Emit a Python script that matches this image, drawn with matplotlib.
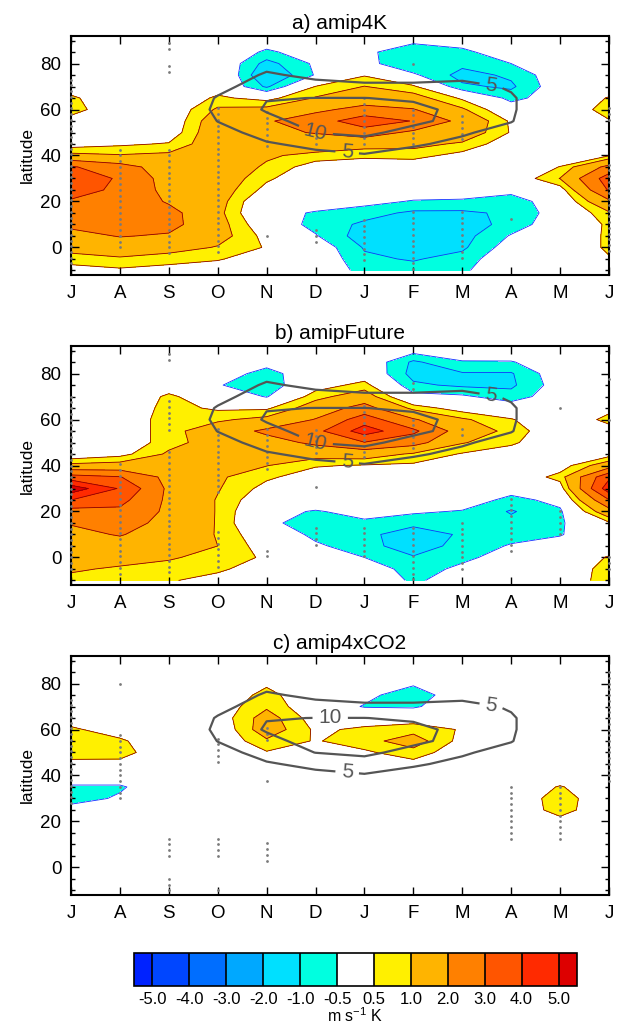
import numpy as np
import matplotlib.pyplot as plt

plt.rcParams['font.family'] = ['Liberation Sans', 'DejaVu Sans']
plt.rcParams['axes.unicode_minus'] = False
plt.rcParams['mathtext.fontset'] = 'custom'
plt.rcParams['mathtext.rm'] = 'Liberation Sans'

# x: months Jul..Jun, y: latitude -10..90 every 5 deg
month_labels = ['J', 'A', 'S', 'O', 'N', 'D', 'J', 'F', 'M', 'A', 'M', 'J']
lats = [-10, -5, 0, 5, 10, 15, 20, 25, 30, 35, 40, 45, 50, 55, 60, 65, 70, 75, 80, 85, 90]

# one list per month (values from lat -10 up to 90), m s-1 K-1
amip4k = [
    [0.2, 0.8, 1.2, 1.7, 2.2, 2.6, 2.9, 3.4, 3.8, 3.1, 1.2, 0.2, 0.0, 0.3, 0.7, 0.6, 0.2, 0, 0, 0, 0],
    [0.4, 0.9, 1.5, 2.05, 2.4, 2.6, 2.7, 2.8, 2.85, 2.4, 1.05, 0.4, 0, 0, 0.1, 0.05, 0, 0, 0, 0, 0],
    [0.3, 0.7, 1.3, 1.9, 2.3, 2.3, 1.9, 1.7, 1.6, 1.5, 1.15, 0.55, 0.1, 0, 0, 0, 0, 0, 0, 0, 0],
    [0.2, 0.55, 0.95, 1.3, 1.3, 1.2, 1.3, 1.4, 1.5, 1.5, 1.5, 1.5, 1.6, 1.5, 1.1, 0.6, 0.2, 0.3, 0.1, 0, 0],
    [0, 0.2, 0.45, 0.3, 0, -0.3, -0.2, 0.3, 0.6, 0.9, 1.1, 1.4, 1.8, 1.9, 1.2, 0.3, -1.1, -1.6, -1.2, -0.6, -0.2],
    [0, 0, -0.1, -0.45, -0.7, -0.55, -0.2, 0, 0, 0.2, 0.8, 1.5, 2.05, 2.5, 1.8, 1.05, 0.52, -0.45, -0.4, -0.2, 0],
    [-0.7, -0.9, -1.05, -1.3, -1.1, -0.8, -0.3, 0, 0, 0.2, 0.6, 1.3, 2.5, 3.6, 2.3, 1.5, 1.02, 0.45, -0.3, -0.35, -0.1],
    [-0.8, -1.05, -1.3, -1.4, -1.3, -1.1, -0.55, -0.1, 0, 0.1, 0.7, 1.2, 1.8, 2.95, 2.05, 1.3, 0.6, -0.4, -0.95, -0.9, -0.35],
    [-0.6, -0.8, -1.1, -1.2, -1.3, -1.1, -0.6, -0.1, 0, 0.1, 0.3, 0.9, 1.5, 1.7, 1.1, 0.4, -0.9, -1.2, -0.85, -0.65, -0.2],
    [0, 0, -0.2, -0.45, -0.8, -0.9, -0.8, -0.3, 0, 0, 0, 0.1, 0.45, 0.4, -0.1, -0.7, -1.1, -0.9, -0.5, -0.1, 0],
    [0, 0, 0, 0, -0.1, -0.2, -0.1, 0.2, 1.02, 0.52, 0.1, 0, 0, 0, -0.1, -0.1, -0.1, -0.1, 0, 0, 0],
    [0.2, 0.45, 0.6, 0.6, 0.6, 0.9, 1.8, 3.1, 3.5, 2.3, 0.45, 0.1, 0.1, 0.45, 0.8, 0.55, 0.1, 0, 0, 0, 0],
]

amip_future = [
    [0.8, 1.1, 1.3, 1.5, 1.8, 2.05, 2.6, 4.0, 5.6, 3.4, 1.2, 0, 0, 0, 0.2, 0, 0, 0, 0, 0, 0],
    [0.6, 0.9, 1.3, 1.7, 2.05, 2.4, 2.8, 3.3, 3.9, 3.05, 1.3, 0.3, 0, 0, 0, 0, 0, 0, 0, 0, 0],
    [0.55, 0.85, 1.05, 1.3, 1.6, 1.7, 1.8, 1.8, 1.8, 1.7, 1.5, 1.1, 0.8, 0.8, 0.8, 0.7, 0.6, 0.2, 0, 0, 0],
    [0.3, 0.6, 0.85, 1.0, 0.95, 0.95, 0.95, 0.95, 1.05, 1.1, 1.15, 1.2, 1.3, 1.4, 0.9, 0.4, 0.1, -0.45, -0.2, 0, 0],
    [0, 0.2, 0.4, 0.2, 0, -0.4, -0.3, 0, 0.3, 0.6, 1.02, 1.2, 1.6, 2.2, 1.2, 0.4, -0.55, -0.9, -0.7, -0.3, 0],
    [0, 0, -0.2, -0.4, -0.65, -0.7, -0.55, -0.1, 0, 0.2, 0.55, 1.3, 2.2, 2.7, 2.05, 1.4, 0.8, 0.2, -0.1, 0, 0],
    [0, -0.2, -0.5, -0.8, -0.9, -0.6, -0.3, 0.1, 0.3, 0.2, 0.45, 1.4, 2.95, 4.5, 3.5, 2.4, 1.4, 0.7, 0.1, 0, 0],
    [-0.6, -0.7, -0.95, -1.3, -1.2, -0.9, -0.4, 0, 0, 0.1, 0.4, 0.9, 2.4, 3.2, 2.1, 0.8, -0.3, -0.9, -1.2, -1.1, -0.3],
    [-0.2, -0.4, -0.6, -0.8, -0.95, -0.8, -0.55, -0.1, 0, 0, 0.1, 0.45, 1.05, 1.5, 1.1, 0.2, -0.4, -1.1, -1.05, -0.55, -0.1],
    [0, -0.1, -0.3, -0.45, -0.7, -0.85, -1.05, -0.7, -0.2, 0, 0, 0.2, 0.6, 0.8, 0.55, -0.1, -0.8, -1.1, -1.05, -0.55, 0],
    [0, 0, 0, -0.2, -0.55, -0.6, -0.6, -0.3, 0.2, 0.7, 0.2, 0, 0, 0, -0.1, 0, -0.1, -0.2, -0.1, 0, 0],
    [0.8, 0.75, 0.55, 0.2, 0.1, 0.4, 1.6, 2.95, 4.6, 3.8, 1.5, 0.2, 0, 0.2, 0.7, 0.3, 0, 0, 0, 0, 0],
]

amip4xco2 = [
    [0, 0, 0, 0, 0, 0, 0, -0.2, -0.8, -0.6, 0, 0.3, 0.8, 0.8, 0.6, 0.2, 0, 0, 0, 0, 0],
    [0, 0, 0, 0, 0, 0, 0, 0, -0.4, -0.6, 0, 0.2, 0.9, 0.6, 0.2, 0, 0, 0, 0, 0, 0],
    [0, 0, 0, 0, 0, 0, 0, 0, 0, 0.1, 0, 0, -0.3, 0, 0, 0, 0, 0, 0, 0, 0],
    [0, 0, 0, 0, 0, 0, 0, 0, 0, 0, 0, 0, -0.3, 0, 0, 0.15, 0.15, 0, 0, 0, 0],
    [0, 0, 0, 0, 0, 0, 0, 0, 0, 0, 0, 0.2, 0.45, 0.9, 1.4, 1.3, 0.9, 0.7, 0.4, 0, 0],
    [0, 0, 0, 0, 0, 0, 0, 0, 0, 0, 0, 0, 0.3, 0.45, 0.4, 0.2, 0, 0, 0, 0, 0],
    [0, 0, 0, 0, 0, 0, 0, 0, 0, 0, 0, 0.1, 0.4, 0.8, 0.6, 0.2, -0.55, -0.3, 0, 0, 0],
    [0, 0, 0, 0, 0, 0, 0, 0, 0, 0, 0, 0.3, 0.8, 1.3, 0.8, 0.2, -0.6, -0.9, -0.4, 0, 0],
    [0, 0, 0, 0, 0, 0, 0, 0, 0, 0, 0, 0, 0.1, 0.3, 0.45, 0.1, 0, 0, 0, 0, 0],
    [0, 0, 0, 0, 0, 0, 0, 0, 0, 0, 0, 0, 0, 0, 0, 0, 0, 0, 0, 0, 0],
    [0, 0, 0, 0, 0, 0, 0.3, 0.75, 0.8, 0.55, 0.1, 0, 0, 0, 0, 0, 0, 0, 0, 0, 0],
    [0, 0, 0, 0, 0, 0, 0, 0, 0, 0, 0, 0, 0, 0, 0, 0, 0, 0, 0, 0, 0],
]

# climatological jet (grey 5 / 10 contours), same in all panels
jet = [
    [0, 0, 0, 0, 0, 0, 0, 0, 0, 0, 0, 0, 0, 0, 0, 0, 0, 0, 0, 0, 0],
    [0, 0, 0, 0, 0, 0, 0, 0, 0, 0, 0, 0, 0, 0, 0, 0, 0, 0, 0, 0, 0],
    [0, 0, 0, 0, 0, 0, 0, 0, 0, 0, 0, 0, 0, 0, 0, 0, 0, 0, 0, 0, 0],
    [0, 0, 0, 0, 0, 0, 0, 0, 0, 0, 1.0, 2.0, 3.5, 5.1, 6.0, 5.4, 3.5, 2.0, 0.5, 0, 0],
    [0, 0, 0, 0, 0, 0, 0, 0, 0.5, 1.5, 3.0, 4.6, 6.5, 8.5, 10.5, 9.8, 7.5, 5.6, 3.5, 1.5, 0.5],
    [0, 0, 0, 0, 0, 0, 0, 0, 1.0, 2.0, 4.0, 6.0, 10.1, 12.0, 11.5, 10.05, 6.5, 4.0, 2.0, 1.0, 0.5],
    [0, 0, 0, 0, 0, 0, 0, 0, 1.0, 2.5, 4.5, 8.0, 11.0, 12.5, 12.0, 10.05, 6.0, 3.0, 1.5, 0.5, 0],
    [0, 0, 0, 0, 0, 0, 0, 0, 1.0, 2.0, 3.5, 5.5, 8.5, 11.0, 11.0, 9.5, 6.0, 3.0, 1.5, 0.5, 0],
    [0, 0, 0, 0, 0, 0, 0, 0, 0.5, 1.5, 2.5, 4.0, 5.5, 8.5, 9.0, 8.0, 6.5, 3.5, 1.5, 0.5, 0],
    [0, 0, 0, 0, 0, 0, 0, 0, 0, 0.5, 1.0, 2.0, 3.5, 5.2, 5.5, 5.5, 4.5, 2.0, 1.0, 0, 0],
    [0, 0, 0, 0, 0, 0, 0, 0, 0, 0, 0, 0, 0.5, 1.0, 1.0, 1.0, 0.5, 0, 0, 0, 0],
    [0, 0, 0, 0, 0, 0, 0, 0, 0, 0, 0, 0, 0, 0, 0, 0, 0, 0, 0, 0, 0],
]

# stippling: (month index, top lat, bottom lat) of each dotted column
stip_a = [(0, 73, -8), (1, 42.5, -0.5), (2, 89, 85), (2, 79, 75), (2, 42.5, -2.5),
          (3, 60.5, -2.5), (4, 59, 44), (4, 5, 5), (5, 50, 44), (5, 7.5, 2),
          (6, 65, 43), (6, 12, -7), (7, 80, 80), (7, 60, 44), (7, 15.5, -10),
          (8, 57, 45), (8, 15.5, -5.5), (9, 12.5, 12.5), (11, 60.5, 55.5), (11, 36, -2.5)]
stip_b = [(0, 70, -5), (1, 40.5, -7), (2, 88.5, 85.5), (2, 68, 55), (2, 46, -7),
          (3, 56, 28.5), (3, 11, -5), (4, 56, 37.5), (4, 3, -1.5), (5, 55.5, 44.5),
          (5, 30.5, 30.5), (5, 13, 5), (6, 66, 43), (6, 13, 0), (7, 76, 72.5),
          (7, 60, 45.5), (7, 13, -10), (8, 56, 51.5), (8, 15, -5), (9, 25.5, 3),
          (10, 65, 65), (10, 20, 8), (11, 77.5, 75.5), (11, 60, 60), (11, 0, -5)]
stip_c = [(0, 73, 27), (1, 80, 80), (1, 57.5, 30), (2, 12.5, 4.5), (2, -5, -10.5),
          (3, 56, 44.5), (3, 12.5, 4.5), (3, -10, -10), (4, 60.5, 55.5), (4, 37.5, 37.5),
          (4, 10.5, 2.5), (9, 35, 12.5), (10, 35, 12.5), (11, 85, 36)]

levels = [-5, -4, -3, -2, -1, -0.5, 0.5, 1, 2, 3, 4, 5]
colors = ['#0022ff', '#0046ff', '#006eff', '#00a8ff', '#00e0ff', '#00ffe0', '#ffffff',
          '#fff000', '#ffb400', '#ff8000', '#ff5500', '#ff2a00', '#dd0000']

panels = [
    ("a) amip4K", amip4k, stip_a, [(8.6, 71.5), (5.65, 42), (5.0, 50.5)]),
    ("b) amipFuture", amip_future, stip_b, [(8.6, 71.5), (5.65, 42), (5.0, 50.5)]),
    ("c) amip4xCO2", amip4xco2, stip_c, [(8.6, 71.5), (5.65, 42), (5.3, 65.5)]),
]
bottoms = [0.7325, 0.4309, 0.1294]

fig = plt.figure(figsize=(6.2, 10.28), dpi=100)
x = np.arange(12)
y = np.array(lats)
jet_z = np.array(jet).T

for (title, field, stip, lab_pos), b in zip(panels, bottoms):
    ax = fig.add_axes([0.1145, b, 0.8677, 0.2325])
    z = np.array(field).T
    cf = ax.contourf(x, y, z, levels=levels, colors=colors, extend='both')
    ax.contour(x, y, z, levels=levels[:6], colors='#1030ff', linewidths=0.6,
               linestyles='solid')
    ax.contour(x, y, z, levels=levels[6:], colors='#8b0000', linewidths=0.6)

    for m, top, bot in stip:
        ys = np.arange(top, bot - 0.01, -2.5)
        ax.plot(np.full(len(ys), m), ys, ls='none', marker='o', ms=2.0,
                color='#7a7a7a', mec='none', clip_on=False, zorder=4)

    cs = ax.contour(x, y, jet_z, levels=[5, 10], colors='#555555', linewidths=1.6,
                    zorder=5)
    ax.clabel(cs, fmt='%d', fontsize=15, manual=lab_pos, inline=True,
              inline_spacing=6)

    ax.set_xlim(0, 11)
    ax.set_ylim(-12, 92)
    ax.set_xticks(x)
    ax.set_xticklabels(month_labels, fontsize=13.5)
    ax.set_yticks([0, 20, 40, 60, 80])
    ax.set_yticks(np.arange(-10, 91, 5), minor=True)
    ax.tick_params(labelsize=13.5, direction='in', top=True, right=True,
                   length=6, width=1, pad=7)
    ax.tick_params(which='minor', direction='in', right=True, length=3, width=1)
    ax.set_ylabel('latitude', fontsize=12.5)
    ax.set_title(title, fontsize=15, pad=5)
    for s in ax.spines.values():
        s.set_linewidth(1.5)
    if b == bottoms[0]:
        cf_ref = cf

cax = fig.add_axes([0.2161, 0.0409, 0.7145, 0.0321])
cb = fig.colorbar(cf_ref, cax=cax, orientation='horizontal', extend='both',
                  extendrect=True, extendfrac=0.5 / 11, drawedges=True,
                  spacing='uniform', ticks=levels)
cb.set_ticklabels(['%.1f' % v for v in levels])
cb.ax.tick_params(length=0, labelsize=12, pad=4)
cb.outline.set_linewidth(1.2)
cb.dividers.set_linewidth(1.2)
cb.dividers.set_color('black')
cb.set_label('m s$^{-1}$ K', fontsize=11.5, labelpad=0)

fig.savefig('out.png', dpi=100)
